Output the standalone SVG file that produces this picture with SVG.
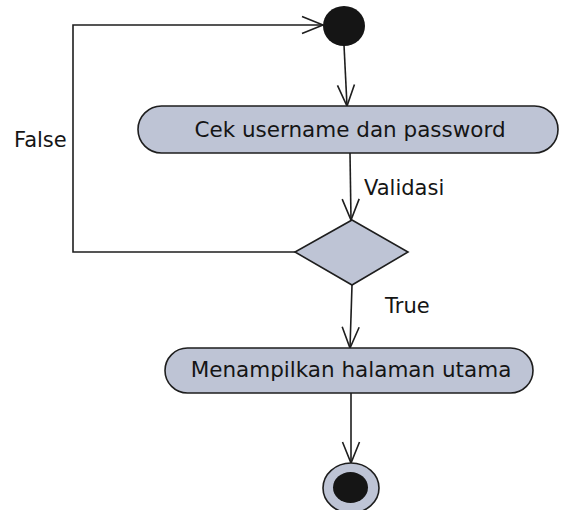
<svg xmlns="http://www.w3.org/2000/svg" width="562" height="510" viewBox="0 0 562 510">
<style>
.node{fill:#bec4d5;stroke:#1e1e1e;stroke-width:1.6}
.dot{fill:#151515;stroke:none}
.edge{fill:none;stroke:#1e1e1e;stroke-width:1.6}
text{font-family:"DejaVu Sans",Verdana,sans-serif;fill:#151515}
.t{font-size:21.5px;text-anchor:middle}
.lbl{font-size:21px}
</style>
<defs>
<marker id="arr" markerUnits="userSpaceOnUse" markerWidth="30" markerHeight="30" viewBox="-25 -12 30 24" refX="0" refY="0" orient="auto">
<path d="M-21,-8.5 L0,0 L-21,8.5" fill="none" stroke="#1e1e1e" stroke-width="1.6"/>
</marker>
</defs>
<rect width="562" height="510" fill="#ffffff"/>
<g id="connectors">
<path class="edge" d="M344,45 L347,106" marker-end="url(#arr)"/>
<path class="edge" d="M350,153 L351,220" marker-end="url(#arr)"/>
<path class="edge" d="M352,285 L350,348" marker-end="url(#arr)"/>
<path class="edge" d="M351,393 L351,463" marker-end="url(#arr)"/>
<path class="edge" d="M295,252 L73,252 L73,25 L323,25" marker-end="url(#arr)"/>
<text class="lbl" x="14" y="147">False</text>
<text class="lbl" x="364" y="195">Validasi</text>
<text class="lbl" x="385" y="313">True</text>
</g>
<g id="start">
<ellipse class="dot" cx="344" cy="26" rx="21" ry="20"/>
</g>
<g id="cek">
<rect class="node" x="138" y="106" width="420" height="47" rx="23.5" ry="23.5"/>
<text class="t" x="350" y="137">Cek username dan password</text>
</g>
<g id="decision">
<polygon class="node" points="352,220 408,252 352,285 295,252"/>
</g>
<g id="menampilkan">
<rect class="node" x="165" y="348" width="368" height="45" rx="22.5" ry="22.5"/>
<text class="t" x="351" y="377">Menampilkan halaman utama</text>
</g>
<g id="end">
<ellipse class="node" cx="351" cy="488" rx="28" ry="25"/>
<ellipse class="dot" cx="350.5" cy="487.5" rx="17.5" ry="15.5"/>
</g>
</svg>
